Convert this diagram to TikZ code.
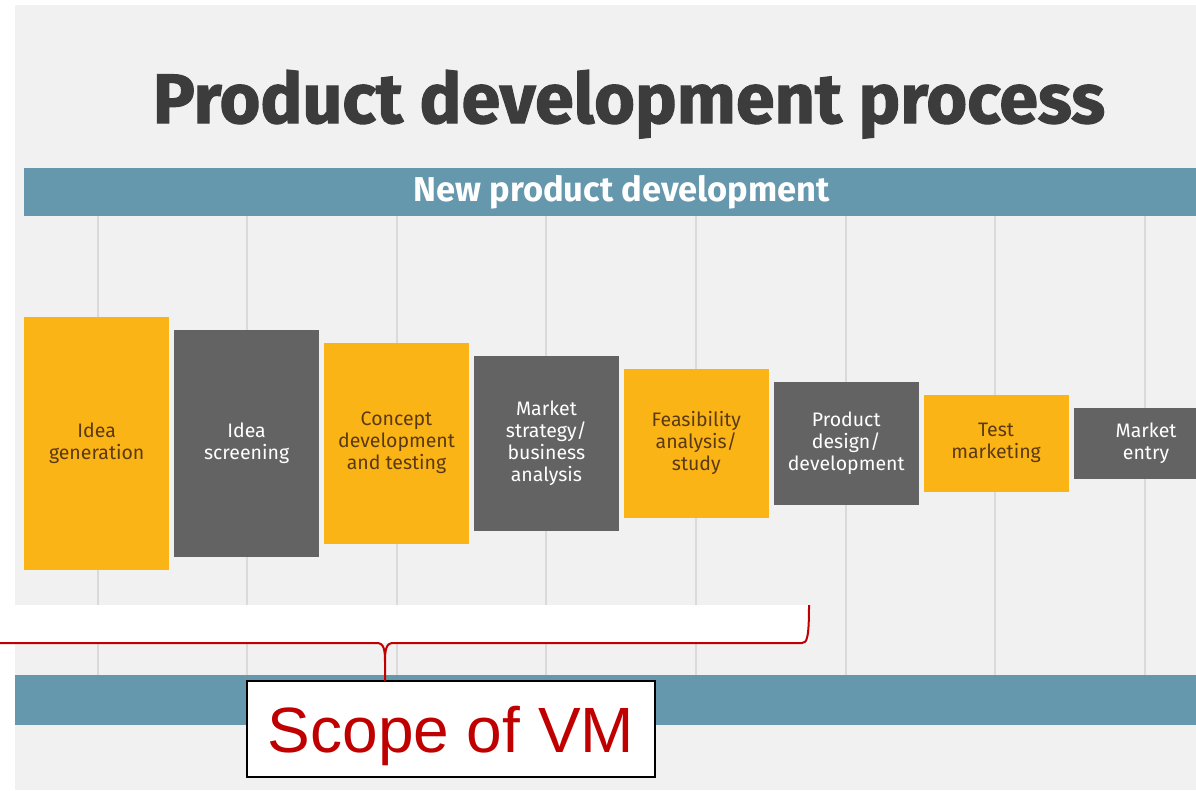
\documentclass[tikz,border=0pt]{standalone}
\usepackage{fontspec}
\setmainfont{Fira Sans}
\newfontfamily\titlefont[FakeBold=1.5]{Fira Sans Bold}
\newfontfamily\scopefont{Liberation Sans}
\usepackage{xcolor}
\usepackage{tikz}
\usetikzlibrary{positioning}
\definecolor{pdbg}{HTML}{F1F1F1}
\definecolor{pdblue}{HTML}{6598AD}
\definecolor{pdyellow}{HTML}{FBB416}
\definecolor{pdgray}{HTML}{636363}
\definecolor{pdtitle}{HTML}{3C3C3C}
\definecolor{pdbrown}{HTML}{5A3A12}
\definecolor{pdgrid}{HTML}{DADADA}
\definecolor{vmred}{HTML}{C00000}
\tikzset{
stage/.style={
  rectangle,
  minimum width=145pt,
  inner sep=0pt,
  align=center,
  font=\fontsize{19.5}{22}\selectfont
  },
ystage/.style={stage, fill=pdyellow, text=pdbrown},
gstage/.style={stage, fill=pdgray, text=white},
gridline/.style={draw=pdgrid, line width=1.2pt},
brace/.style={draw=vmred, line width=2pt}
}

\begin{document}
\begin{tikzpicture}[x=1pt,y=-1pt]
\useasboundingbox (0,0) rectangle (1196,790);
\fill[pdbg] (15,5) rectangle (1196,790);
\draw[gridline] (98,216) -- (98,675) (247,216) -- (247,675)
  (397,216) -- (397,675) (546,216) -- (546,675)
  (696,216) -- (696,675) (846,216) -- (846,675)
  (995,216) -- (995,675) (1145,216) -- (1145,675);
\node[anchor=base, text=pdtitle, font=\titlefont\fontsize{70}{76}\selectfont](title) at (629,123){Product development process};
\node[anchor=north west, fill=pdblue, text=white, inner sep=0pt, minimum width=1195pt, minimum height=48pt, font=\fontsize{34.5}{38}\selectfont\bfseries](npd) at (24,168){New product development};
\node[ystage, minimum height=253pt, anchor=west](ideagen) at (24,443){Idea\\generation};
\node[gstage, minimum height=227pt, right=4.5pt of ideagen](ideascr){Idea\\screening};
\node[ystage, minimum height=201pt, right=4.5pt of ideascr](concept){Concept\\development\\and testing};
\node[gstage, minimum height=175pt, right=4.5pt of concept](strategy){Market\\strategy/\\business\\analysis};
\node[ystage, minimum height=149pt, right=4.5pt of strategy](feasib){Feasibility\\analysis/\\study};
\node[gstage, minimum height=123pt, right=4.5pt of feasib](design){Product\\design/\\development};
\node[ystage, minimum height=97pt, right=4.5pt of design](testmkt){Test\\marketing};
\node[gstage, minimum height=71pt, right=4.5pt of testmkt](entry){Market\\entry};
\fill[pdblue] (15,675) rectangle (1196,725);
\fill[white] (0,605) rectangle (809,643);
\node[draw=black, line width=2pt, fill=white, text=vmred, inner sep=0pt, text depth=0pt, minimum width=408pt, minimum height=96pt, font=\scopefont\fontsize{64}{70}\selectfont](scope) at (451,729){Scope of VM};
\draw[brace] (0,643) -- (377,643) .. controls (384,643) and (385,650) .. (385,662) -- (385,681);
\draw[brace] (385,662) .. controls (385,650) and (386,643) .. (393,643) -- (802,643) .. controls (807,643) and (809,638) .. (809,605);
\end{tikzpicture}
\end{document}
